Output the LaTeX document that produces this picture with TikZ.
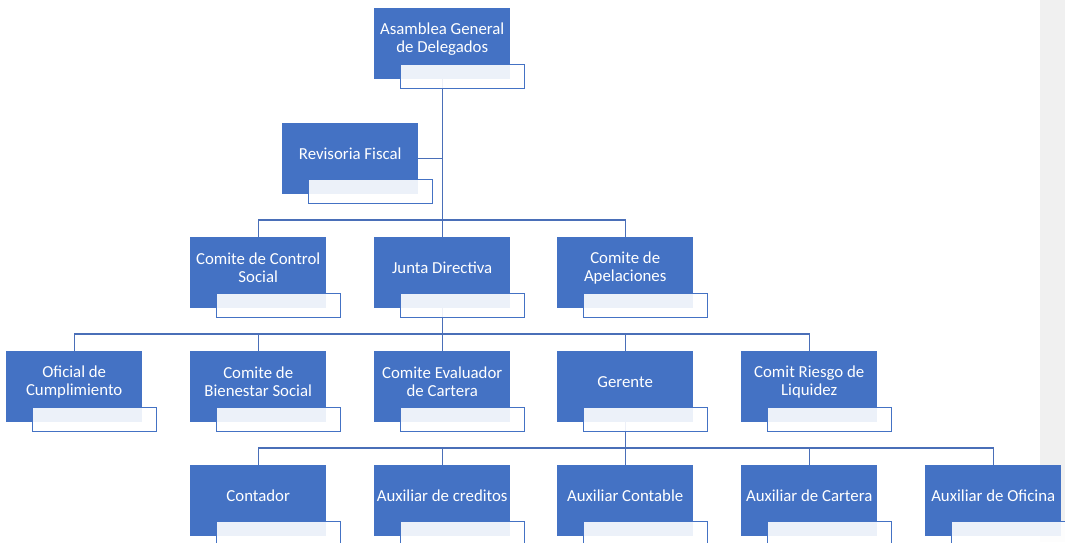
\documentclass[tikz,border=0pt]{standalone}
\usepackage{fontspec}
\setmainfont{Carlito}
\usetikzlibrary{backgrounds}
\definecolor{boxblue}{HTML}{4472C4}
\definecolor{linecol}{HTML}{4A6FB8}
\definecolor{strip}{HTML}{F0F0F0}
\tikzset{
  bluebox/.style={anchor=north west, minimum width=136pt, minimum height=71pt, inner sep=0pt, fill=boxblue},
  palerect/.style={anchor=north west, minimum width=124pt, minimum height=24pt, inner sep=0pt, draw=boxblue, line width=1pt, fill=white, fill opacity=0.9},
  lbl/.style={text=white, font=\fontsize{16.8}{18}\selectfont, align=center, inner sep=0pt},
  conn/.style={draw=linecol, line width=1.3pt}
}
\newcommand\orgunit[4]{%
  \node[bluebox] (#1) at (#2,#3) {};
  \node[palerect] (#1w) at ([xshift=26pt,yshift=-56pt]#1.north west) {};
  \node[lbl] (#1t) at ([yshift=5pt]#1.center) {#4};
}
\begin{document}
\begin{tikzpicture}[x=1pt,y=-1pt]
\useasboundingbox (0,0) rectangle (1065,542);
\orgunit{asam}{374}{8}{Asamblea General\\de Delegados}
\orgunit{rev}{282}{123}{Revisoria Fiscal}
\orgunit{ccs}{190}{237}{Comite de Control\\Social}
\orgunit{jd}{374}{237}{Junta Directiva}
\orgunit{cap}{557}{237}{Comite de\\Apelaciones}
\orgunit{ofc}{6}{351}{Oficial de\\Cumplimiento}
\orgunit{cbs}{190}{351}{Comite de\\Bienestar Social}
\orgunit{cec}{374}{351}{Comite Evaluador\\de Cartera}
\orgunit{ger}{557}{351}{Gerente}
\orgunit{crl}{741}{351}{Comit Riesgo de\\Liquidez}
\orgunit{cont}{190}{465}{Contador}
\orgunit{acr}{374}{465}{Auxiliar de creditos}
\orgunit{acon}{557}{465}{Auxiliar Contable}
\orgunit{acar}{741}{465}{Auxiliar de Cartera}
\orgunit{aof}{925}{465}{Auxiliar de Oficina}
\begin{pgfonlayer}{background}
  \fill[strip] (1040,0) rectangle (1065,542);
  \coordinate (bus1) at (asam.south |- 0,220);
  \coordinate (bus2) at (jd.south |- 0,334);
  \coordinate (bus3) at (ger.south |- 0,448);
  \draw[conn] (asam.south) -- (jd.north);
  \draw[conn] (rev.east) -- (rev.east -| asam.south);
  \draw[conn] (bus1) -| (ccs.north);
  \draw[conn] (bus1) -| (cap.north);
  \draw[conn] (jd.south) -- (cec.north);
  \draw[conn] (bus2) -| (ofc.north);
  \draw[conn] (bus2) -| (cbs.north);
  \draw[conn] (bus2) -| (ger.north);
  \draw[conn] (bus2) -| (crl.north);
  \draw[conn] (ger.south) -- (acon.north);
  \draw[conn] (bus3) -| (cont.north);
  \draw[conn] (bus3) -| (acr.north);
  \draw[conn] (bus3) -| (acar.north);
  \draw[conn] (bus3) -| (aof.north);
\end{pgfonlayer}
\end{tikzpicture}
\end{document}
